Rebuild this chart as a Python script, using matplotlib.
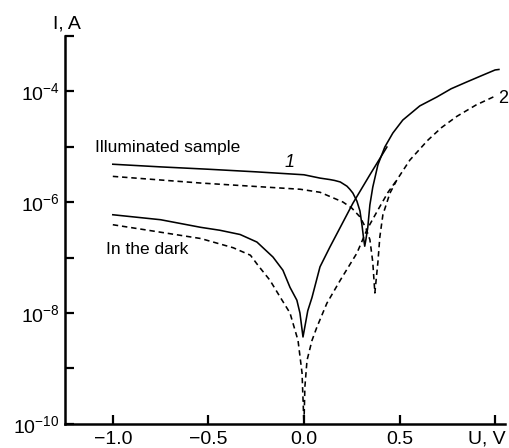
import matplotlib
matplotlib.use("Agg")
import matplotlib.pyplot as plt
from matplotlib.transforms import ScaledTranslation
from matplotlib.ticker import NullLocator

plt.rcParams['font.family'] = ['Liberation Sans', 'DejaVu Sans']
plt.rcParams['mathtext.fontset'] = 'custom'
plt.rcParams['mathtext.rm'] = 'Liberation Sans'
plt.rcParams['mathtext.it'] = 'Liberation Sans:italic'
plt.rcParams['mathtext.default'] = 'regular'

# Illuminated sample, curve 1 (solid)
u_light_1 = [-1.0, -0.75, -0.5, -0.25, 0.0, 0.084, 0.136, 0.16, 0.19, 0.225, 0.24, 0.256, 0.277,
             0.293, 0.303, 0.313, 0.318, 0.324, 0.334, 0.345, 0.36, 0.387, 0.423, 0.465, 0.517,
             0.606, 0.695, 0.77, 0.85, 0.93, 1.0, 1.02]
i_light_1 = [4.8e-6, 4.3e-6, 3.9e-6, 3.5e-6, 3.1e-6, 2.7e-6, 2.54e-6, 2.45e-6, 2.3e-6, 1.93e-6,
             1.7e-6, 1.45e-6, 1.04e-6, 6.9e-7, 4.0e-7, 2.1e-7, 1.6e-7, 2.1e-7, 3.5e-7, 8.9e-7,
             1.85e-6, 4.7e-6, 9.8e-6, 1.75e-5, 3.0e-5, 5.4e-5, 7.8e-5, 1.1e-4, 1.45e-4, 1.9e-4,
             2.4e-4, 2.45e-4]

# Illuminated sample, curve 2 (dashed)
u_light_2 = [-1.0, -0.54, -0.02, 0.084, 0.204, 0.25, 0.293, 0.324, 0.345, 0.36, 0.371,
             0.387, 0.397, 0.413, 0.45, 0.486, 0.554, 0.648, 0.72, 0.80, 0.90, 1.0]
i_light_2 = [2.9e-6, 2.2e-6, 1.7e-6, 1.5e-6, 1.0e-6, 7.8e-7, 5.4e-7, 3.4e-7, 2.1e-7, 8.3e-8, 2.3e-8,
             8.3e-8, 2.35e-7, 5.9e-7, 1.45e-6, 2.5e-6, 5.7e-6, 1.3e-5, 2.2e-5, 3.5e-5, 5.6e-5, 8.1e-5]

# In the dark, curve 1 (solid)
u_dark_1 = [-1.0, -0.75, -0.54, -0.44, -0.334, -0.246, -0.162, -0.11, -0.073, -0.037, -0.021,
            -0.005, 0.02, 0.042, 0.084, 0.136, 0.19, 0.256, 0.345, 0.434]
i_dark_1 = [5.9e-7, 4.8e-7, 3.5e-7, 3.1e-7, 2.6e-7, 1.9e-7, 1.02e-7, 5.9e-8, 2.9e-8, 1.7e-8,
            1.0e-8, 3.7e-9, 1.1e-8, 1.9e-8, 6.8e-8, 1.55e-7, 3.5e-7, 9.5e-7, 3.1e-6, 9.8e-6]

# In the dark, curve 2 (dashed)
u_dark_2 = [-1.0, -0.54, -0.37, -0.28, -0.24, -0.178, -0.125, -0.073, -0.031, -0.01, 0.0,
            0.005, 0.016, 0.042, 0.068, 0.12, 0.19, 0.277, 0.33, 0.387, 0.44, 0.486]
i_dark_2 = [3.9e-7, 2.2e-7, 1.5e-7, 1.1e-7, 7.2e-8, 3.9e-8, 1.95e-8, 1.0e-8, 3.2e-9, 8.3e-10, 1.0e-10,
            4.7e-10, 1.4e-9, 3.2e-9, 5.6e-9, 1.5e-8, 3.9e-8, 1.2e-7, 3.2e-7, 7.2e-7, 1.5e-6, 2.5e-6]

x_ticks = [-1.0, -0.5, 0.0, 0.5, 1.0]
x_tick_labels = ['\u22121.0', '\u22120.5', '0.0', '0.5', 'U, V']
y_ticks = [1e-10, 1e-9, 1e-8, 1e-7, 1e-6, 1e-5, 1e-4, 1e-3]
y_tick_labels = ['$10^{\u221210}$', '', '$10^{\u22128}$', '', '$10^{\u22126}$', '',
                 '$10^{\u22124}$', '']

fig = plt.figure(figsize=(5.10, 4.48), dpi=100)
ax = fig.add_axes([0.1275, 0.0536, 0.862, 0.867])

lw = 1.15
dash = (0, (3.4, 2.4))
ax.plot(u_light_1, i_light_1, color='black', lw=lw)
ax.plot(u_light_2, i_light_2, color='black', lw=lw, ls=dash)
ax.plot(u_dark_1, i_dark_1, color='black', lw=lw)
ax.plot(u_dark_2, i_dark_2, color='black', lw=lw, ls=dash)

ax.set_yscale('log')
ax.set_xlim(-1.25, 1.05)
ax.set_ylim(1e-10, 1e-3)

ax.set_xticks(x_ticks)
ax.set_xticklabels(x_tick_labels)
ax.set_yticks(y_ticks)
ax.set_yticklabels(y_tick_labels)
ax.yaxis.set_minor_locator(NullLocator())

for side in ('top', 'right'):
    ax.spines[side].set_visible(False)
for side in ('left', 'bottom'):
    ax.spines[side].set_linewidth(1.8)

ax.tick_params(axis='both', direction='in', length=6.5, width=1.6, labelsize=14)
ax.tick_params(axis='x', pad=5)
ax.tick_params(axis='y', pad=4)

# pull the axis-unit label slightly left so it stays inside the figure
last = ax.get_xticklabels()[-1]
last.set_transform(last.get_transform() + ScaledTranslation(-0.08, 0, fig.dpi_scale_trans))

ax.text(-1.092, 9.8e-6, 'Illuminated sample', fontsize=12.5, ha='left', va='center')
ax.text(-1.035, 1.4e-7, 'In the dark', fontsize=12.5, ha='left', va='center')
ax.text(-0.073, 5.2e-6, '1', fontsize=13, style='italic', ha='center', va='center')
ax.text(1.04, 7.4e-5, '2', fontsize=13, ha='center', va='center')
fig.text(67 / 510, 1 - 24 / 448, 'I, A', fontsize=14, ha='center', va='center')

fig.savefig('out.png', dpi=100)
